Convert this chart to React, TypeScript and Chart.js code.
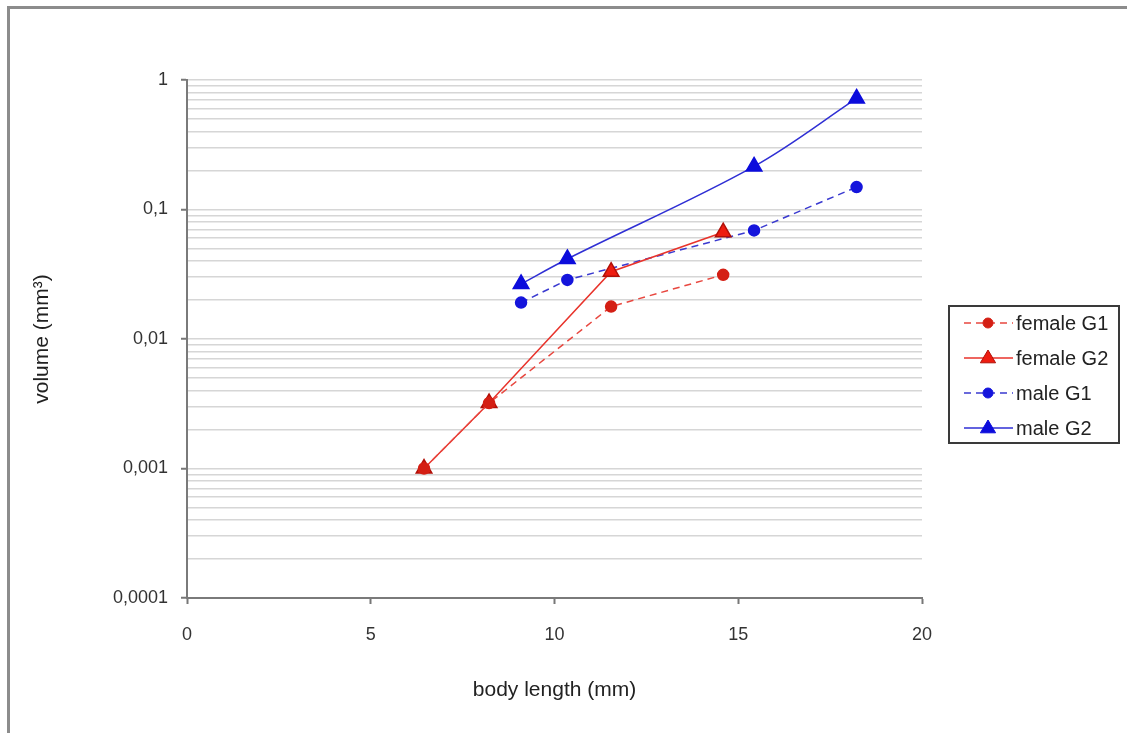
import React, { useEffect, useRef } from "react";
import { Chart, registerables } from "chart.js";
Chart.register(...registerables);

const seriesNames = ["female G1", "female G2", "male G1", "male G2"];
const femaleG1X = [6.45, 8.22, 11.54, 14.59];
const femaleG1Y = [0.001, 0.0032, 0.0178, 0.0313];
const femaleG2X = [6.45, 8.22, 11.54, 14.59];
const femaleG2Y = [0.001, 0.0032, 0.0331, 0.0668];
const maleG1X = [9.09, 10.35, 15.43, 18.22];
const maleG1Y = [0.0191, 0.0286, 0.0689, 0.149];
const maleG2X = [9.09, 10.35, 15.43, 18.22];
const maleG2Y = [0.0266, 0.0415, 0.215, 0.72];

const yTickLabels = ["0,0001", "0,001", "0,01", "0,1", "1"];
const yDecadeExps = [-4, -3, -2, -1, 0];
const yMinorMultipliers = [1, 2, 3, 4, 5, 6, 7, 8, 9];
const xTickValues = [0, 5, 10, 15, 20];

const FONT = "'Liberation Sans', Arial, Helvetica, sans-serif";

function isDecade(v: number) {
  const e = Math.log10(v);
  return Math.abs(e - Math.round(e)) < 1e-6;
}

function buildGridValues() {
  const vals: number[] = [];
  yDecadeExps.forEach((e) => {
    if (e === 0) {
      vals.push(1);
      return;
    }
    yMinorMultipliers.forEach((m) => {
      vals.push(parseFloat((m * Math.pow(10, e)).toPrecision(6)));
    });
  });
  return vals;
}

function pts(xs: number[], ys: number[]) {
  return xs.map((x, i) => ({ x, y: ys[i] }));
}

function drawMarker(ctx: CanvasRenderingContext2D, style: string, x: number, y: number, r: number, fill: string, stroke: string) {
  ctx.save();
  ctx.setLineDash([]);
  ctx.fillStyle = fill;
  ctx.strokeStyle = stroke;
  ctx.lineWidth = 1;
  ctx.beginPath();
  if (style === "triangle") {
    ctx.moveTo(x, y - r);
    ctx.lineTo(x + r * 0.95, y + r * 0.6);
    ctx.lineTo(x - r * 0.95, y + r * 0.6);
    ctx.closePath();
  } else {
    ctx.arc(x, y, r, 0, Math.PI * 2);
  }
  ctx.fill();
  ctx.stroke();
  ctx.restore();
}

const legendPlugin = {
  id: "boxLegend",
  afterDraw(chart: any) {
    const ctx: CanvasRenderingContext2D = chart.ctx;
    ctx.save();
    ctx.strokeStyle = "#3a3a3a";
    ctx.lineWidth = 2;
    ctx.strokeRect(949, 306, 170, 137);
    chart.data.datasets.forEach((ds: any, i: number) => {
      const y = 323 + i * 35;
      ctx.save();
      ctx.strokeStyle = ds.borderColor;
      ctx.lineWidth = ds.borderWidth;
      ctx.setLineDash(ds.borderDash || []);
      ctx.beginPath();
      ctx.moveTo(964, y);
      ctx.lineTo(1013, y);
      ctx.stroke();
      ctx.restore();
      drawMarker(ctx, ds.pointStyle, 988, y, ds.pointStyle === "triangle" ? 8 : 5, ds.pointBackgroundColor, ds.pointBorderColor);
      ctx.fillStyle = "#222";
      ctx.font = `20px ${FONT}`;
      ctx.textBaseline = "middle";
      ctx.textAlign = "left";
      ctx.fillText(ds.label, 1016, y + 1);
    });
    ctx.restore();
  },
};

export default function App() {
  const canvasRef = useRef<HTMLCanvasElement | null>(null);

  useEffect(() => {
    if (!canvasRef.current) return;
    const gridValues = buildGridValues();
    const chart = new Chart(canvasRef.current, {
      type: "line",
      data: {
        datasets: [
          {
            label: seriesNames[0],
            data: pts(femaleG1X, femaleG1Y),
            borderColor: "#e8473f",
            borderWidth: 1.5,
            borderDash: [7, 5],
            pointStyle: "circle",
            pointRadius: 5.5,
            pointBackgroundColor: "#d41f14",
            pointBorderColor: "#d41f14",
            tension: 0,
          },
          {
            label: seriesNames[1],
            data: pts(femaleG2X, femaleG2Y),
            borderColor: "#e8332b",
            borderWidth: 1.5,
            pointStyle: "triangle",
            pointRadius: 9,
            pointBackgroundColor: "#ee1c10",
            pointBorderColor: "#b01008",
            tension: 0,
          },
          {
            label: seriesNames[2],
            data: pts(maleG1X, maleG1Y),
            borderColor: "#3a3ad0",
            borderWidth: 1.5,
            borderDash: [7, 5],
            pointStyle: "circle",
            pointRadius: 5.5,
            pointBackgroundColor: "#1515dc",
            pointBorderColor: "#1515dc",
            tension: 0,
          },
          {
            label: seriesNames[3],
            data: pts(maleG2X, maleG2Y),
            borderColor: "#2f2fd4",
            borderWidth: 1.5,
            pointStyle: "triangle",
            pointRadius: 9,
            pointBackgroundColor: "#0c0cdc",
            pointBorderColor: "#0c0cdc",
            tension: 0.35,
          },
        ],
      },
      options: {
        animation: false,
        responsive: true,
        maintainAspectRatio: false,
        layout: { padding: { top: 80, right: 205, bottom: 0, left: 0 } },
        plugins: {
          legend: { display: false },
          tooltip: { enabled: false },
        },
        scales: {
          x: {
            type: "linear",
            min: 0,
            max: 20,
            afterBuildTicks: (scale: any) => {
              scale.ticks = xTickValues.map((v) => ({ value: v }));
            },
            afterFit: (scale: any) => {
              scale.height = 135;
            },
            ticks: {
              color: "#333",
              font: { family: FONT, size: 18 },
              padding: 20,
              maxRotation: 0,
            },
            grid: {
              drawOnChartArea: false,
              drawTicks: true,
              tickLength: 6,
              tickColor: "#777",
              tickWidth: 2,
            },
            border: { color: "#7a7a7a", width: 2 },
            title: {
              display: true,
              text: "body length (mm)",
              color: "#222",
              font: { family: FONT, size: 21 },
              padding: { top: 0, bottom: 30 },
            },
          },
          y: {
            type: "logarithmic",
            min: 0.0001,
            max: 1,
            afterBuildTicks: (scale: any) => {
              scale.ticks = gridValues.map((v) => ({ value: v, major: isDecade(v) }));
            },
            afterFit: (scale: any) => {
              scale.width = 187;
            },
            ticks: {
              autoSkip: false,
              color: "#333",
              font: { family: FONT, size: 18 },
              padding: 13,
              callback: (value: any) => {
                const v = Number(value);
                if (!isDecade(v)) return "";
                const e = Math.round(Math.log10(v));
                return yTickLabels[yDecadeExps.indexOf(e)];
              },
            },
            grid: {
              color: "#d6d6d6",
              lineWidth: 1.5,
              tickLength: 6,
              tickWidth: 2,
              tickColor: (ctx: any) => (ctx.tick && isDecade(ctx.tick.value) ? "#777" : "rgba(0,0,0,0)"),
            },
            border: { color: "#7a7a7a", width: 2 },
            title: {
              display: true,
              text: "volume (mm³)",
              color: "#222",
              font: { family: FONT, size: 21 },
              padding: { top: 30, bottom: 0 },
            },
          },
        },
      },
      plugins: [legendPlugin],
    } as any);
    return () => chart.destroy();
  }, []);

  return (
    <div style={{ position: "absolute", left: 0, top: 0, width: 1127, height: 733, background: "#fff" }}>
      <div
        style={{
          position: "absolute",
          left: 7,
          top: 6,
          width: 1120,
          height: 727,
          borderTop: "3px solid #8c8c8c",
          borderLeft: "3px solid #8c8c8c",
          boxSizing: "border-box",
        }}
      />
      <div style={{ position: "absolute", left: 0, top: 0, width: 1127, height: 733 }}>
        <canvas ref={canvasRef} />
      </div>
    </div>
  );
}
